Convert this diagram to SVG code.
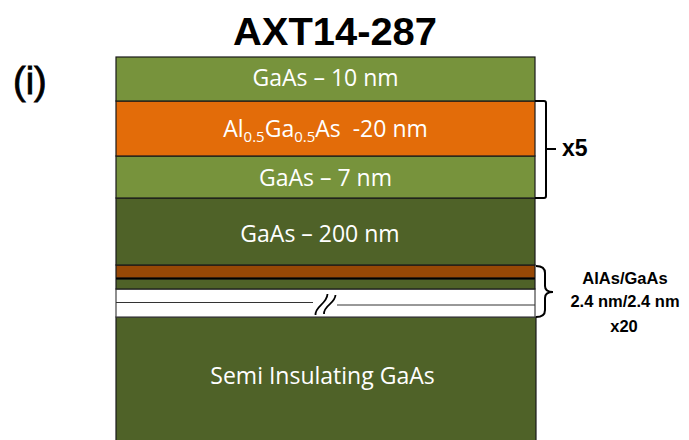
<svg xmlns="http://www.w3.org/2000/svg" width="689" height="440" viewBox="0 0 689 440">
<style>
.lbl{font-family:"Open Sans","Liberation Sans",sans-serif;font-size:23px;fill:#ffffff;text-anchor:middle}
.lay{stroke:#1a1a1a;stroke-width:1.2}
.side{font-family:"Liberation Sans",sans-serif;font-weight:bold;fill:#000;}
.br{fill:none;stroke:#000;stroke-width:2}
</style>
<rect width="689" height="440" fill="#ffffff"/>
<text x="335" y="45" font-family="Liberation Sans, sans-serif" font-size="38" font-weight="bold" text-anchor="middle" fill="#000" textLength="204" lengthAdjust="spacingAndGlyphs">AXT14-287</text>
<text x="13" y="94" font-family="Liberation Sans, sans-serif" font-size="38" fill="#000" stroke="#000" stroke-width="0.8">(i)</text>
<g id="substrate">
<rect x="116" y="317" width="420" height="125" fill="#4F6228" class="lay"/>
<text class="lbl" x="322.5" y="384">Semi Insulating GaAs</text>
</g>
<g id="superlattice">
<rect x="116" y="289" width="419" height="28" fill="#ffffff" stroke="#444" stroke-width="1.2"/>
<rect x="116" y="279" width="419" height="10" fill="#4F6228" class="lay"/>
<rect x="116" y="265" width="419" height="13" fill="#974806" class="lay"/>
<line x1="116" y1="278.6" x2="535" y2="278.6" stroke="#000" stroke-width="1.5"/>
<line x1="116" y1="302.5" x2="313" y2="302.5" stroke="#333" stroke-width="1"/>
<line x1="337" y1="305" x2="535" y2="305" stroke="#333" stroke-width="1"/>
<path d="M315.5,315 C315,306 327,304 327.5,294 M324,314 C323.5,305 335,304 335.5,295" fill="none" stroke="#000" stroke-width="1.8"/>
</g>
<g id="buffer">
<rect x="116" y="198" width="419" height="67" fill="#4F6228" class="lay"/>
<text class="lbl" x="320" y="242">GaAs – 200 nm</text>
</g>
<g id="gaas7">
<rect x="116" y="156" width="419" height="42" fill="#77933C" class="lay"/>
<text class="lbl" x="325.5" y="186">GaAs – 7 nm</text>
</g>
<g id="algaas">
<rect x="116" y="101" width="419" height="55" fill="#E36C09" class="lay"/>
<text class="lbl" x="325.5" y="137">Al<tspan font-size="15" dy="5">0.5</tspan><tspan dy="-5">Ga</tspan><tspan font-size="15" dy="5">0.5</tspan><tspan dy="-5">As&#160; -20 nm</tspan></text>
</g>
<g id="cap">
<rect x="116" y="57" width="419" height="44" fill="#77933C" class="lay"/>
<text class="lbl" x="325.5" y="86">GaAs – 10 nm</text>
</g>
<g id="connectors">
<path class="br" d="M535,101 L544,101 Q546,101 546,103 L546,196 Q546,198 544,198 L535,198 M546,149 L556,149"/>
<path class="br" stroke-width="1.5" d="M536,266 Q545,266 545,273 L545,286 Q545,292 553,292 Q545,292 545,298 L545,310 Q545,317 536,317"/>
</g>
<g id="labels">
<text class="side" x="562" y="156" font-size="23">x5</text>
<text class="side" x="625" y="284" font-size="16.5" text-anchor="middle">AlAs/GaAs</text>
<text class="side" x="625" y="307" font-size="16.5" text-anchor="middle">2.4 nm/2.4 nm</text>
<text class="side" x="624" y="332" font-size="16.5" text-anchor="middle">x20</text>
</g>
</svg>
